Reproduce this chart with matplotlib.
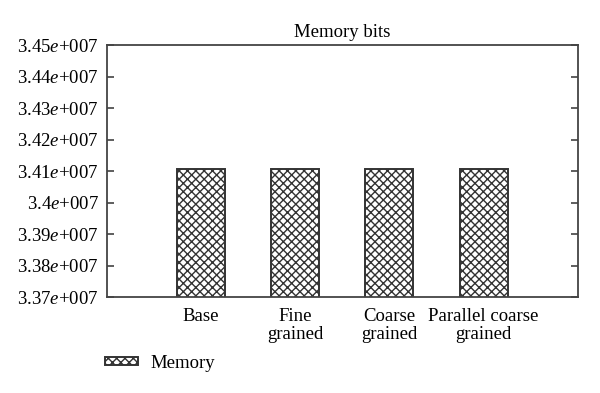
import matplotlib
matplotlib.use("Agg")
import matplotlib.pyplot as plt
import numpy as np

categories = ["Base", "Fine\ngrained", "Coarse\ngrained", "Parallel coarse\ngrained"]
memory_bits = [34106000, 34106000, 34106000, 34106000]
yticks = [3.37e7, 3.38e7, 3.39e7, 3.40e7, 3.41e7, 3.42e7, 3.43e7, 3.44e7, 3.45e7]
ytick_labels = ["3.37", "3.38", "3.39", "3.4", "3.41", "3.42", "3.43", "3.44", "3.45"]
series_name = "Memory"
title = "Memory bits"

plt.rcParams['font.family'] = ['Liberation Serif', 'DejaVu Serif']
plt.rcParams['mathtext.fontset'] = 'custom'
plt.rcParams['mathtext.it'] = 'Liberation Serif:italic'
plt.rcParams['mathtext.rm'] = 'Liberation Serif'
plt.rcParams['hatch.linewidth'] = 1.0
plt.rcParams['hatch.color'] = '#222222'

FS = 13.5

fig = plt.figure(figsize=(6.0, 3.93), dpi=100)
ax = fig.add_axes([0.178, 0.244, 0.785, 0.641])

x = np.arange(1, len(categories) + 1)
bars = ax.bar(x, memory_bits, width=0.51, color='white', edgecolor='#333333',
              linewidth=1.4, hatch='xxxx', label=series_name)

ax.set_xlim(0, 5)
ax.set_ylim(3.37e7, 3.45e7)
ax.set_yticks(yticks)
ax.set_yticklabels([t + r"$\mathit{e}$+007" for t in ytick_labels], fontsize=FS)
ax.set_xticks(x)
ax.set_xticklabels(categories, fontsize=FS, linespacing=1.05)
ax.tick_params(axis='x', length=0, pad=8)
ax.tick_params(axis='y', direction='in', length=5, width=1.1, color='#333333',
               left=True, right=True, pad=6)
for s in ax.spines.values():
    s.set_color('#444444')
    s.set_linewidth(1.3)

ax.set_title(title, fontsize=FS, pad=6)

leg = fig.legend(handles=[bars], labels=[series_name], loc='center left',
                 bbox_to_anchor=(0.163, 1 - 363 / 393), frameon=False,
                 fontsize=FS, handlelength=1.75, handleheight=0.3,
                 handletextpad=0.65, borderaxespad=0)

fig.savefig("out.png", dpi=100)
